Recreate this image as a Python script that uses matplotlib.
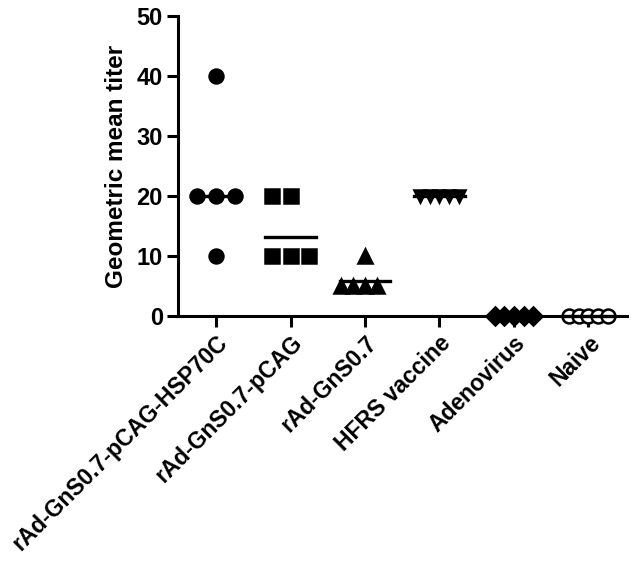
import matplotlib
matplotlib.use("Agg")
import matplotlib.pyplot as plt
import numpy as np

plt.rcParams["font.family"] = ["Liberation Sans", "DejaVu Sans"]
plt.rcParams["font.weight"] = "bold"

# groups and individual titers
groups = ["rAd-GnS0.7-pCAG-HSP70C", "rAd-GnS0.7-pCAG", "rAd-GnS0.7",
          "HFRS vaccine", "Adenovirus", "Naive"]
titers = [
    [40, 20, 20, 20, 10],
    [20, 20, 10, 10, 10],
    [10, 5, 5, 5, 5],
    [20, 20, 20, 20, 20],
    [0, 0, 0, 0, 0],
    [0, 0, 0, 0, 0],
]
markers = ["o", "s", "^", "v", "D", "o"]
fills = ["black", "black", "black", "black", "black", "white"]
msizes = [10, 10, 10, 8.5, 9, 10]


def spread(vals):
    # spread repeated values side by side like a column scatter
    vals = np.asarray(vals, dtype=float)
    offs = np.zeros(len(vals))
    for v in np.unique(vals):
        idx = np.where(vals == v)[0]
        n = len(idx)
        step = 0.25 if n <= 3 else 0.65 / n
        offs[idx] = (np.arange(n) - n // 2) * step
    return offs


fig = plt.figure(figsize=(6.36, 5.61), dpi=100)
ax = fig.add_axes([0.280, 0.437, 0.706, 0.534])

for i, vals in enumerate(titers):
    x = i + spread(vals)
    ax.plot(x, vals, linestyle="none", marker=markers[i], ms=msizes[i],
            mfc=fills[i], mec="black", mew=1.8, zorder=3, clip_on=False)
    v = np.asarray(vals, dtype=float)
    if np.all(v > 0):
        gm = np.exp(np.mean(np.log(v)))
    else:
        gm = 0.0
    ax.plot([i - 0.34, i + 0.34], [gm, gm], color="black", lw=2.4,
            zorder=4, clip_on=False)

ax.set_xlim(-0.51, 5.52)
ax.set_ylim(0, 50)
ax.set_yticks(range(0, 51, 10))
ax.set_xticks(range(len(groups)))
ax.set_xticklabels(groups, rotation=45, ha="right", rotation_mode="anchor",
                   fontsize=16.5, fontweight="bold")
ax.set_ylabel("Geometric mean titer", fontsize=17.5, fontweight="bold",
              labelpad=6)

for lab in ax.get_yticklabels():
    lab.set_fontsize(17)
    lab.set_fontweight("bold")

for s in ["top", "right"]:
    ax.spines[s].set_visible(False)
for s in ["left", "bottom"]:
    ax.spines[s].set_linewidth(2.2)
ax.tick_params(axis="both", width=2.2, length=8, pad=3)

fig.savefig("out.png", dpi=100)
